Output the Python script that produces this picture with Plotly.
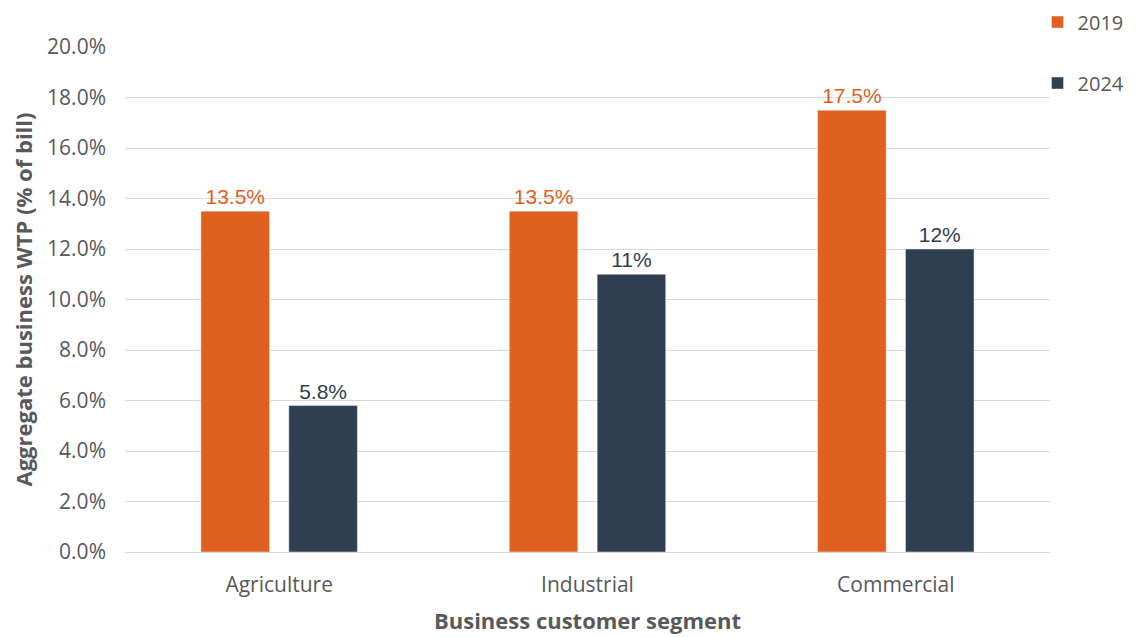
import plotly.graph_objects as go

categories = ["Agriculture", "Industrial", "Commercial"]
values_2019 = [13.5, 13.5, 17.5]
values_2024 = [5.8, 11.0, 12.0]
labels_2019 = ["13.5%", "13.5%", "17.5%"]
labels_2024 = ["5.8%", "11%", "12%"]
y_ticks = [0, 2, 4, 6, 8, 10, 12, 14, 16, 18, 20]
y_tick_text = [f"{v:.1f}%" for v in y_ticks]

ORANGE = "#E0601F"
NAVY = "#2F3E50"
GREY = "#595959"

fig = go.Figure()
fig.add_trace(go.Bar(
    x=categories, y=values_2019, name="2019", marker_color=ORANGE,
    text=labels_2019, textposition="outside", cliponaxis=False,
    textfont=dict(family="Liberation Sans, Arial", size=21, color=ORANGE),
    legendgroup="a",
))
fig.add_trace(go.Bar(
    x=categories, y=values_2024, name="2024", marker_color=NAVY,
    text=labels_2024, textposition="outside", cliponaxis=False,
    textfont=dict(family="Liberation Sans, Arial", size=21, color=NAVY),
    legendgroup="b",
))

fig.update_layout(
    width=1136, height=637,
    paper_bgcolor="white", plot_bgcolor="white",
    margin=dict(l=117, r=94, t=39, b=93, autoexpand=False),
    barmode="group", bargap=0.43, bargroupgap=0.22,
    font=dict(family="Open Sans, Noto Sans, sans-serif", color=GREY, size=17),
    legend=dict(xref="paper", yref="paper", x=0.9865, xanchor="left",
                y=1.088, yanchor="top", itemwidth=30,
                font=dict(size=20, color=GREY), tracegroupgap=32,
                bgcolor="rgba(0,0,0,0)"),
)
fig.update_xaxes(
    title=dict(text="<b>Business customer segment</b>", font=dict(size=22, color=GREY), standoff=16),
    showline=True, linecolor="#D9D9D9", linewidth=1, ticks="",
    tickfont=dict(size=21, color=GREY), ticklabelstandoff=14, automargin=False,
)
fig.update_yaxes(
    title=dict(text="<b>Aggregate business WTP (% of bill)</b>", font=dict(size=22, color=GREY), standoff=33),
    range=[0, 20], tickvals=y_ticks, ticktext=y_tick_text,
    showgrid=True, gridcolor="#D9D9D9", gridwidth=1, zeroline=False,
    tickfont=dict(size=21, color=GREY), ticks="", ticklen=0, ticklabelstandoff=18,
    automargin=False,
)

fig.write_html("out.html")
